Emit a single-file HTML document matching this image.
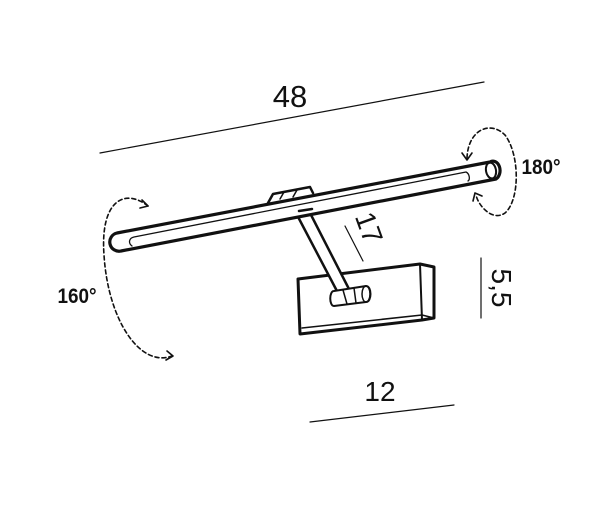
<!DOCTYPE html>
<html><head><style>
html,body{margin:0;padding:0;background:#fff;}
svg{display:block;}
text{font-family:"Liberation Sans",sans-serif;fill:#111;}
</style></head><body>
<svg width="602" height="506" viewBox="0 0 602 506" xmlns="http://www.w3.org/2000/svg">
<g stroke="#111" fill="none" stroke-linecap="round" stroke-linejoin="round">
 <!-- dimension lines -->
 <line x1="100" y1="153" x2="484" y2="82" stroke-width="1.2"/>
 <line x1="345" y1="226" x2="363" y2="261" stroke-width="1.2"/>
 <line x1="481" y1="258" x2="481" y2="318" stroke-width="1.2"/>
 <line x1="310" y1="422" x2="454" y2="405" stroke-width="1.2"/>
 <!-- dashed arcs -->
 <path d="M148 206 C125 188 100 200 104 255 C108 320 140 368 172 356" stroke-width="1.6" stroke-dasharray="4 3"/>
 <path d="M142 200 L148 206 L140 208" stroke-width="1.6"/>
 <path d="M167 351 L173 356 L166 360" stroke-width="1.6"/>
 <path d="M467 158 C468 130 490 120 505 135 C520 155 520 200 505 213 C492 222 478 205 476 195" stroke-width="1.6" stroke-dasharray="4 3"/>
 <path d="M462 153 L467 160 L472 153" stroke-width="1.6"/>
 <path d="M473 201 L475 193 L482 196" stroke-width="1.6"/>
 <!-- bracket plate on bar -->
 <path d="M268 203 L273 194 L310 187 L313 193" stroke-width="2.5" fill="#fff"/>
 <line x1="280" y1="199" x2="284" y2="192" stroke-width="1.5"/>
 <line x1="293" y1="197" x2="297" y2="190" stroke-width="1.5"/>
 <!-- box -->
 <path d="M298 279 L420 264 L434 267 L434 318 L422 320 L300 334 Z" stroke-width="3" fill="#fff"/>
 <path d="M420 264 L422 320" stroke-width="2"/>
 <path d="M302 328 L422 315 L434 318" stroke-width="1.5"/>
 <!-- arm -->
 <path d="M296 213 L338 293 L350 291 L309 211 Z" stroke-width="2.5" fill="#fff"/>
 <!-- knob -->
 <path d="M334 291 L366 286 C372 286 372 302 366 302 L334 306 C329 306 329 291 334 291 Z" stroke-width="2" fill="#fff"/>
 <ellipse cx="366" cy="294" rx="4" ry="8" stroke-width="1.5"/>
 <path d="M343 290 L347 304 M354 288 L356 303" stroke-width="1.5"/>
 <!-- bar -->
 <path d="M117 233 L490 162 A6 8 0 0 1 496 179 L121 251 A9 9 0 0 1 117 233 Z" stroke-width="3.2" fill="#fff"/>
 <ellipse cx="491" cy="170.5" rx="5" ry="8" stroke-width="2" transform="rotate(-10 491 170.5)"/>
 <path d="M132 246 C128 243 129 238 134 237 L466 172 M466 172 C470 174 470 180 468 181" stroke-width="1.3"/>
 <path d="M299 211 L312 209" stroke-width="2.5"/>
</g>
<text x="290" y="107" font-size="31" text-anchor="middle">48</text>
<text x="380" y="401" font-size="28" text-anchor="middle">12</text>
<text transform="translate(360,231) rotate(70)" font-size="28" text-anchor="middle">17</text>
<text transform="translate(492,288) rotate(90)" font-size="28" text-anchor="middle">5,5</text>
<text transform="translate(77,303) scale(0.9,1)" font-size="21" font-weight="bold" text-anchor="middle">160°</text>
<text transform="translate(541,174) scale(0.9,1)" font-size="21" font-weight="bold" text-anchor="middle">180°</text>
</svg>
</body></html>
